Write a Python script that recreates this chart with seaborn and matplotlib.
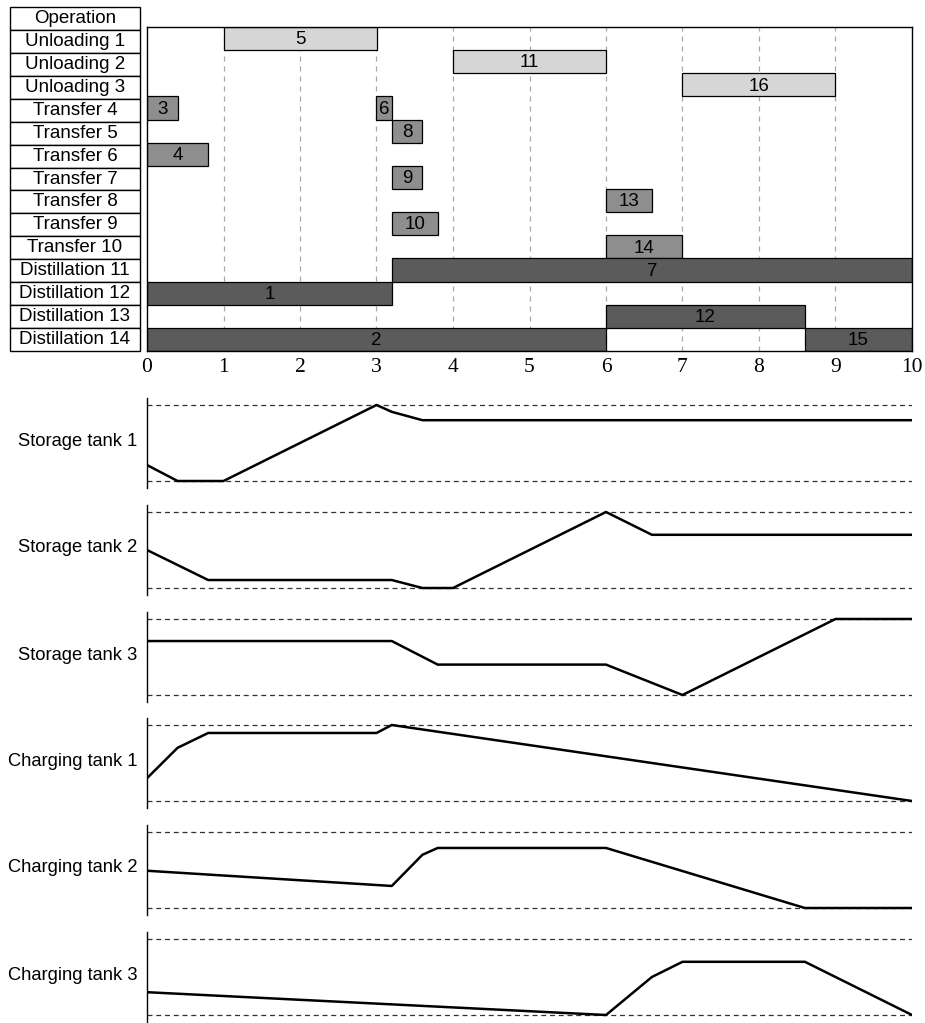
import matplotlib
matplotlib.use("Agg")
import matplotlib.pyplot as plt
import seaborn as sns
import pandas as pd

operations = ["Unloading 1", "Unloading 2", "Unloading 3",
              "Transfer 4", "Transfer 5", "Transfer 6", "Transfer 7",
              "Transfer 8", "Transfer 9", "Transfer 10",
              "Distillation 11", "Distillation 12", "Distillation 13", "Distillation 14"]

# gantt tasks: row, start, end, label, kind
task_row = ["Unloading 1", "Unloading 2", "Unloading 3",
            "Transfer 4", "Transfer 4", "Transfer 5", "Transfer 6", "Transfer 7",
            "Transfer 8", "Transfer 9", "Transfer 10",
            "Distillation 11", "Distillation 12", "Distillation 13",
            "Distillation 14", "Distillation 14"]
task_start = [1.0, 4.0, 7.0, 0.0, 3.0, 3.2, 0.0, 3.2, 6.0, 3.2, 6.0, 3.2, 0.0, 6.0, 0.0, 8.6]
task_end = [3.0, 6.0, 9.0, 0.4, 3.2, 3.6, 0.8, 3.6, 6.6, 3.8, 7.0, 10.0, 3.2, 8.6, 6.0, 10.0]
task_label = ["5", "11", "16", "3", "6", "8", "4", "9", "13", "10", "14", "7", "1", "12", "2", "15"]
task_kind = ["unload"] * 3 + ["transfer"] * 8 + ["distill"] * 5

kind_color = {"unload": "#d6d6d6", "transfer": "#8e8e8e", "distill": "#5b5b5b"}

tank_names = ["Storage tank 1", "Storage tank 2", "Storage tank 3",
              "Charging tank 1", "Charging tank 2", "Charging tank 3"]
# normalized level (0 = min, 1 = max) at time points
tank_t = [
    [0, 0.4, 1.0, 3.0, 3.2, 3.6, 10],
    [0, 0.8, 3.2, 3.6, 4.0, 6.0, 6.6, 10],
    [0, 3.2, 3.8, 6.0, 7.0, 9.0, 10],
    [0, 0.4, 0.8, 3.0, 3.2, 10],
    [0, 3.2, 3.6, 3.8, 6.0, 8.6, 10],
    [0, 6.0, 6.6, 7.0, 8.6, 10],
]
tank_level = [
    [0.21, 0.0, 0.0, 1.0, 0.91, 0.80, 0.80],
    [0.50, 0.105, 0.105, 0.0, 0.0, 1.0, 0.70, 0.70],
    [0.71, 0.71, 0.40, 0.40, 0.0, 1.0, 1.0],
    [0.30, 0.70, 0.895, 0.895, 1.0, 0.0],
    [0.49, 0.29, 0.70, 0.79, 0.79, 0.0, 0.0],
    [0.30, 0.0, 0.50, 0.70, 0.70, 0.0],
]

sns.set_theme(style="white")
plt.rcParams["font.family"] = ["Liberation Sans", "DejaVu Sans"]
plt.rcParams["text.color"] = "black"
plt.rcParams["xtick.color"] = "black"

W, H = 925, 1023
fig = plt.figure(figsize=(W / 100, H / 100), dpi=100)


def px_axes(x0, y0, x1, y1):
    return fig.add_axes([x0 / W, 1 - y1 / H, (x1 - x0) / W, (y1 - y0) / H])


# ---- gantt ----
ax = px_axes(147, 27, 912, 351)
n = len(operations)
gantt = pd.DataFrame({"row": task_row, "start": task_start, "end": task_end,
                      "label": task_label, "kind": task_kind})
gantt["y"] = gantt["row"].map({op: i for i, op in enumerate(operations)})
for t in range(1, 10):
    ax.axvline(t, color="#a8a8a8", ls=(0, (4, 4)), lw=0.9, zorder=0)
ax.barh(gantt["y"], gantt["end"] - gantt["start"], left=gantt["start"], height=1.0,
        color=gantt["kind"].map(kind_color), edgecolor="black", linewidth=0.9, zorder=2)
for _, r in gantt.iterrows():
    ax.text((r["start"] + r["end"]) / 2, r["y"] + 0.05, r["label"], ha="center", va="center",
            fontsize=13.5, color="black", zorder=3)
ax.set_xlim(0, 10)
ax.set_ylim(n - 0.5, -0.5)
ax.set_yticks([])
ax.set_xticks(range(0, 11))
ax.tick_params(axis="x", length=0, pad=5)
for lab in ax.get_xticklabels():
    lab.set_fontfamily("Liberation Serif")
    lab.set_fontsize(15.5)
for s in ax.spines.values():
    s.set_color("black")
    s.set_linewidth(1.0)

# ---- operation table ----
tax = px_axes(10, 7, 140, 351)
tax.set_axis_off()
rows = ["Operation"] + operations
tbl = tax.table(cellText=[[r] for r in rows], cellLoc="center", bbox=[0, 0, 1, 1])
tbl.auto_set_font_size(False)
tbl.set_fontsize(13.5)
for cell in tbl.get_celld().values():
    cell.set_linewidth(1.0)
    cell.set_edgecolor("black")
    cell.get_text().set_color("black")

# ---- tank profiles ----
tops = [398, 505, 612, 718, 825, 932]
for name, ts, lv, top in zip(tank_names, tank_t, tank_level, tops):
    a = px_axes(147, top, 912, top + 90)
    df = pd.DataFrame({"t": ts, "level": lv})
    a.axhline(1.0, color="#333333", ls=(0, (4, 3)), lw=0.9)
    a.axhline(0.0, color="#333333", ls=(0, (4, 3)), lw=0.9)
    sns.lineplot(data=df, x="t", y="level", ax=a, color="black", lw=1.8, sort=False)
    a.set_xlim(0, 10)
    a.set_ylim(-0.092, 1.092)
    a.set_xticks([])
    a.set_yticks([])
    a.set_xlabel("")
    a.set_ylabel("")
    for side in ["top", "right", "bottom"]:
        a.spines[side].set_visible(False)
    a.spines["left"].set_color("black")
    a.spines["left"].set_linewidth(1.0)
    fig.text(137 / W, 1 - (top + 43) / H, name, ha="right", va="center", fontsize=13.2)

fig.savefig("out.png", dpi=100)
